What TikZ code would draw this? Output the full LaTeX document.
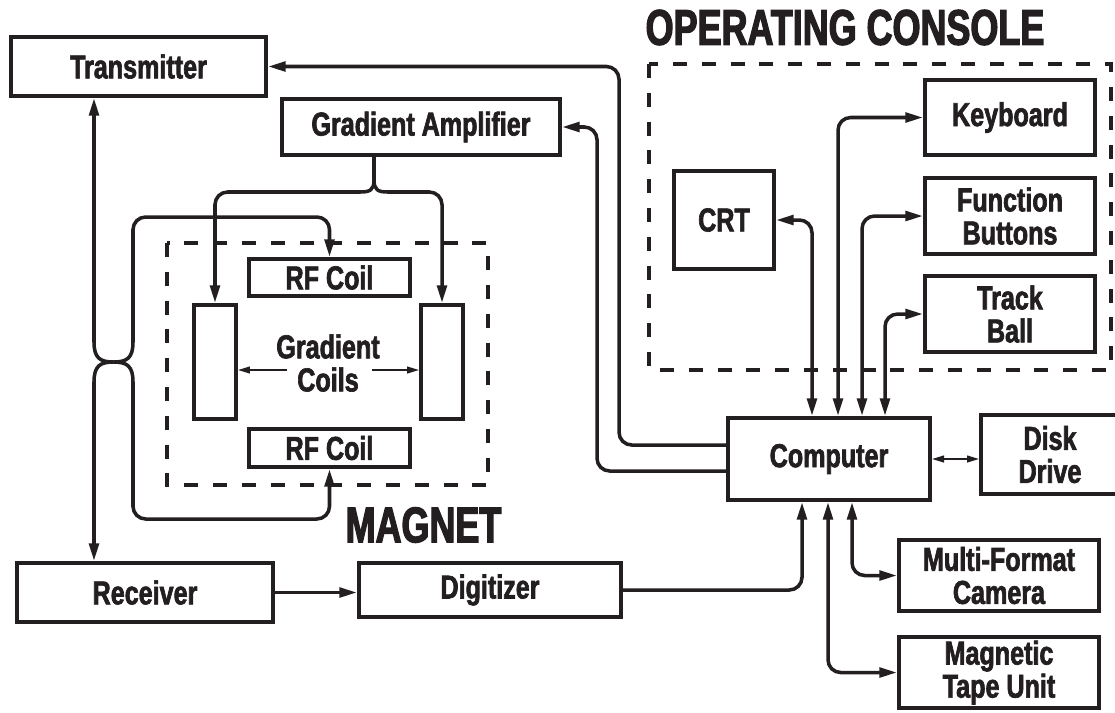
\documentclass[tikz,border=0pt]{standalone}
\usepackage{fontspec}
\setmainfont{Liberation Sans}[FakeStretch=0.76, FakeBold=2]
\newfontfamily\titlefont{Liberation Sans}[FakeStretch=0.72, FakeBold=2.5]
\usetikzlibrary{arrows.meta}
\definecolor{ink}{HTML}{231F20}

\begin{document}
\begin{tikzpicture}[x=0.025cm, y=-0.025cm, ink,
    >={Triangle[length=0.44cm, width=0.24cm]},
    ftip/.tip={Triangle[length=0.3cm, width=0.17cm]},
    unit/.style={draw=ink, line width=2.8pt, align=center, inner sep=0pt,
        font=\fontsize{23.5}{23.5}\selectfont\bfseries},
    wire/.style={draw=ink, line width=2.5pt},
    fine/.style={draw=ink, line width=1.2pt},
    frame/.style={draw=ink, line width=2.8pt, dash pattern=on 0.35cm off 0.37cm},
    title/.style={inner sep=0pt, font=\titlefont\fontsize{35.5}{36}\selectfont\bfseries}]
    \useasboundingbox[fill=white] (0,0) rectangle (1115,712);

    % magnet side
    \node[unit, minimum width=6.375cm, minimum height=1.475cm] (tx) at (138.5,66.5) {Transmitter};
    \node[unit, minimum width=6.95cm, minimum height=1.4cm] (ga) at (421,127) {Gradient Amplifier};
    \node[unit, minimum width=4.025cm, minimum height=0.925cm] (rft) at (329.5,277.5) {RF Coil};
    \node[unit, minimum width=4.025cm, minimum height=0.95cm] (rfb) at (329.5,448) {RF Coil};
    \node[unit, minimum width=1.05cm, minimum height=2.85cm] (gcl) at (215,362) {};
    \node[unit, minimum width=1.05cm, minimum height=2.85cm] (gcr) at (442,362) {};
    \node[unit, draw=none] (gct) at (328,363) {Gradient\\Coils};
    \node[unit, minimum width=6.4cm, minimum height=1.475cm] (rx) at (145,592.5) {Receiver};
    \node[unit, minimum width=6.55cm, minimum height=1.35cm] (dg) at (490,590) {Digitizer};
    \draw[frame] (167,243) rectangle (488,485);
    \node[title] (mg) at (423.5,525) {MAGNET};

    % console side
    \node[unit, minimum width=5.05cm, minimum height=2.05cm] (cp) at (829,459) {Computer};
    \node[unit, minimum width=3.45cm, minimum height=1.975cm] (dk) at (1050,454.5) {Disk\\Drive};
    \node[unit, minimum width=5cm, minimum height=1.775cm] (cam) at (999,575.5) {Multi-Format\\Camera};
    \node[unit, minimum width=5cm, minimum height=1.775cm] (tp) at (999,672.5) {Magnetic\\Tape Unit};
    \node[unit, minimum width=4.25cm, minimum height=1.875cm] (kb) at (1010,117.5) {Keyboard};
    \node[unit, minimum width=4.25cm, minimum height=1.9cm] (fb) at (1010,216) {Function\\Buttons};
    \node[unit, minimum width=4.25cm, minimum height=1.9cm] (tb) at (1010,314) {Track\\Ball};
    \node[unit, minimum width=2.5cm, minimum height=2.45cm] (crt) at (724,220) {CRT};
    \draw[frame] (649,64) rectangle (1111,370);
    \node[title] (oc) at (845,27.5) {OPERATING CONSOLE};

    \coordinate (vx) at (94,0);
    \coordinate (jn) at (113.5,362);
    \coordinate (jb) at (374,180);
    \coordinate (tv) at (619,0);
    \coordinate (gv) at (597,0);
    \coordinate (gl) at (287,370);
    \coordinate (gr) at (372,370);
    \coordinate (c1) at (812,0);
    \coordinate (c2) at (838,0);
    \coordinate (c3) at (862,0);
    \coordinate (c4) at (885,0);
    \coordinate (c5) at (802,0);
    \coordinate (c6) at (852,0);
    \coordinate (c7) at (828,0);

    % transmitter/receiver line joined to the RF coils
    \draw[wire, <-] (tx.south -| vx) -- (94,342) .. controls (94,358) and (100,362) .. (jn);
    \draw[wire, ->] (jn) .. controls (100,362) and (94,366) .. (94,382) -- (rx.north -| vx);
    \draw[wire, ->] (jn) .. controls (127,362) and (133,358) .. (133,342)
        [rounded corners=9pt] -- (133,217) -| (rft.north);
    \draw[wire, ->] (jn) .. controls (127,362) and (133,366) .. (133,382)
        [rounded corners=9pt] -- (133,519) -| (rfb.south);

    % gradient amplifier to coils
    \draw[wire, ->] (ga.south -| jb) -- (jb) .. controls (374,190) and (370,192) .. (360,192)
        [rounded corners=9pt] -| (gcl.north);
    \draw[wire, ->] (ga.south -| jb) -- (jb) .. controls (374,190) and (378,192) .. (388,192)
        [rounded corners=9pt] -| (gcr.north);
    \draw[fine, -ftip] (gl) -- (gl -| gcl.east);
    \draw[fine, -ftip] (gr) -- (gr -| gcr.west);

    % computer links
    \draw[wire, ->, rounded corners=9pt] ([yshift=0.35cm]cp.west) -| (tv |- tx.east) -- (tx.east);
    \draw[wire, ->, rounded corners=9pt] ([yshift=-0.3cm]cp.west) -| (gv |- ga.east) -- (ga.east);
    \draw[wire, <->, rounded corners=9pt] (cp.north -| c1) |- (crt.east);
    \draw[wire, <->, rounded corners=9pt] (cp.north -| c2) |- (kb.west);
    \draw[wire, <->, rounded corners=9pt] (cp.north -| c3) |- (fb.west);
    \draw[wire, <->, rounded corners=9pt] (cp.north -| c4) |- (tb.west);
    \draw[wire, ->] (rx.east) -- (rx.east -| dg.west);
    \draw[wire, ->, rounded corners=9pt] (dg.east) -| (cp.south -| c5);
    \draw[wire, <->, rounded corners=9pt] (cp.south -| c6) |- (cam.west);
    \draw[wire, <->, rounded corners=9pt] (cp.south -| c7) |- (tp.west);
    \draw[fine, ftip-ftip] (cp.east) -- (cp.east -| dk.west);
\end{tikzpicture}
\end{document}
